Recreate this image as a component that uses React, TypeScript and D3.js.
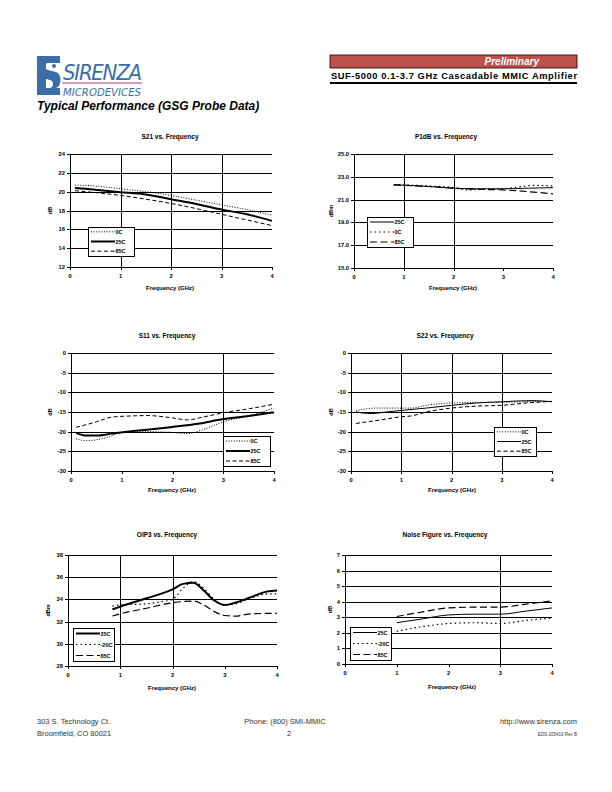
import * as d3 from "d3";

// ---- data (freq GHz, value) ----
const s21_0C = [[0.1, 20.7], [0.5, 20.6], [1, 20.3], [1.5, 20.0], [2, 19.6], [2.5, 19.1], [3, 18.6], [3.5, 18.1], [4, 17.5]];
const s21_25C = [[0.1, 20.4], [0.5, 20.2], [1, 19.95], [1.5, 19.7], [2, 19.2], [2.5, 18.7], [3, 18.1], [3.5, 17.6], [4, 16.9]];
const s21_85C = [[0.1, 20.1], [0.5, 19.9], [1, 19.6], [1.5, 19.2], [2, 18.75], [2.5, 18.2], [3, 17.6], [3.5, 17.0], [4, 16.4]];

const p1_25C = [[0.8, 22.3], [1.5, 22.15], [2, 22.0], [2.5, 21.95], [3, 21.95], [3.5, 22.0], [4, 22.05]];
const p1_0C = [[0.8, 22.3], [1.5, 22.2], [2, 22.05], [2.3, 21.85], [2.5, 21.9], [3, 21.95], [3.3, 22.1], [3.6, 22.25], [4, 22.2]];
const p1_85C = [[0.8, 22.3], [1.5, 22.15], [2, 22.0], [2.5, 21.9], [3, 21.85], [3.5, 21.7], [4, 21.5]];

const s11_0C = [[0.1, -21.8], [0.3, -22.3], [0.7, -21.5], [1, -20.2], [1.5, -20.0], [2, -20.2], [2.3, -20.5], [2.6, -19.5], [3, -17.5], [3.5, -16.0], [4, -14.0]];
const s11_25C = [[0.1, -20.3], [0.3, -21.0], [0.5, -21.0], [0.8, -20.5], [1.1, -20.0], [1.5, -19.5], [2, -18.8], [2.5, -18.0], [3, -16.8], [3.5, -16.0], [4, -15.1]];
const s11_85C = [[0.1, -18.9], [0.5, -17.5], [0.8, -16.3], [1.2, -16.0], [1.5, -15.9], [2, -16.5], [2.3, -17.0], [2.6, -16.3], [3, -15.2], [3.5, -14.2], [4, -13.0]];

const s22_0C = [[0.1, -14.7], [0.5, -14.0], [1.2, -14.0], [1.5, -13.3], [2, -12.7], [3, -12.5], [4, -12.3]];
const s22_25C = [[0.1, -15.0], [0.4, -15.4], [0.7, -15.0], [1, -14.6], [1.5, -14.0], [2, -13.3], [2.5, -12.7], [3, -12.4], [3.6, -12.1], [4, -12.4]];
const s22_85C = [[0.1, -17.9], [0.6, -17.0], [1, -16.2], [1.2, -16.0], [1.5, -15.0], [2, -14.0], [2.5, -13.5], [3, -13.3], [3.5, -12.7], [4, -12.3]];

const ip3_25C = [[0.85, 33.1], [1, 33.35], [1.5, 34.1], [2, 34.9], [2.2, 35.4], [2.4, 35.5], [2.6, 34.8], [2.8, 33.9], [3, 33.5], [3.2, 33.7], [3.5, 34.2], [3.8, 34.7], [4, 34.8]];
const ip3_m20C = [[0.85, 33.4], [1, 33.5], [1.5, 33.6], [1.8, 33.8], [2, 34.0], [2.2, 35.0], [2.4, 35.6], [2.6, 35.0], [2.8, 34.0], [3, 33.5], [3.2, 33.6], [3.5, 34.1], [3.8, 34.5], [4, 34.5]];
const ip3_85C = [[0.85, 32.5], [1, 32.7], [1.5, 33.2], [2, 33.7], [2.4, 33.85], [2.6, 33.5], [2.8, 32.9], [3, 32.55], [3.2, 32.5], [3.5, 32.7], [4, 32.75]];

const nf_25C = [[1, 2.65], [1.5, 2.9], [2, 3.15], [2.5, 3.2], [3, 3.2], [3.5, 3.4], [4, 3.6]];
const nf_m20C = [[1, 2.1], [1.5, 2.4], [2, 2.6], [2.5, 2.65], [3, 2.6], [3.5, 2.8], [4, 2.95]];
const nf_85C = [[1, 3.05], [1.5, 3.35], [2, 3.6], [2.5, 3.65], [3, 3.65], [3.5, 3.85], [4, 4.05]];

const xTicks = [0, 1, 2, 3, 4];

// line styles
const DOT = { dash: "1,1.6", w: 1 };
const DOT2 = { dash: "1.5,3", w: 1.2 };
const HEAVY = { dash: null, w: 2 };
const THIN = { dash: null, w: 1 };
const DASH = { dash: "4,2.5", w: 1 };
const LDASH = { dash: "7,3.5", w: 1.2 };

const FONT = "Liberation Sans, Arial, sans-serif";

function Chart({ title, titleX, titleY, xTitleX, xTitleY, yLabel, yLabelX, plot, yDomain, yTicks, fmt, vGrid, series, legend }) {
  const x = d3.scaleLinear().domain([0, 4]).range([plot.x0, plot.x1]);
  const y = d3.scaleLinear().domain(yDomain).range([plot.y1, plot.y0]);
  const line = d3.line().x(d => x(d[0])).y(d => y(d[1])).curve(d3.curveMonotoneX);
  const rowH = (legend.y1 - legend.y0) / series.length;
  return (
    <g fontFamily={FONT} fontWeight="bold">
      <text x={titleX} y={titleY} fontSize={6.5} textAnchor="middle">{title}</text>
      {yTicks.map(t => (
        <g key={"h" + t}>
          <line x1={plot.x0} x2={plot.x1} y1={Math.round(y(t)) + 0.5} y2={Math.round(y(t)) + 0.5} stroke="#000" strokeWidth={1} />
          <line x1={plot.x0 - 3} x2={plot.x0} y1={Math.round(y(t)) + 0.5} y2={Math.round(y(t)) + 0.5} stroke="#000" strokeWidth={1} />
          <text x={plot.x0 - 5} y={y(t) + 2} fontSize={5.8} textAnchor="end">{fmt(t)}</text>
        </g>
      ))}
      {vGrid.map(v => (
        <line key={"v" + v} x1={Math.round(x(v)) + 0.5} x2={Math.round(x(v)) + 0.5} y1={plot.y0} y2={plot.y1} stroke="#000" strokeWidth={1} />
      ))}
      <line x1={plot.x0 + 0.5} x2={plot.x0 + 0.5} y1={plot.y0} y2={plot.y1} stroke="#000" strokeWidth={1} />
      {xTicks.map(t => (
        <g key={"x" + t}>
          <line x1={Math.round(x(t)) + 0.5} x2={Math.round(x(t)) + 0.5} y1={plot.y1} y2={plot.y1 + 3} stroke="#000" strokeWidth={1} />
          <text x={x(t)} y={plot.y1 + 11} fontSize={5.8} textAnchor="middle">{t}</text>
        </g>
      ))}
      {series.map(s => (
        <path key={s.name} d={line(s.data)} fill="none" stroke="#000" strokeWidth={s.style.w} strokeDasharray={s.style.dash || undefined} />
      ))}
      <text x={xTitleX} y={xTitleY} fontSize={6} textAnchor="middle">Frequency (GHz)</text>
      <text transform={`translate(${yLabelX},${(plot.y0 + plot.y1) / 2}) rotate(-90)`} fontSize={5.5} textAnchor="middle">{yLabel}</text>
      <rect x={legend.x0 + 0.5} y={legend.y0 + 0.5} width={legend.x1 - legend.x0} height={legend.y1 - legend.y0} fill="#fff" stroke="#000" strokeWidth={1} />
      {series.map((s, i) => {
        const cy = legend.y0 + rowH * (i + 0.5);
        return (
          <g key={"l" + s.name}>
            <line x1={legend.x0 + 3} x2={legend.x0 + 27} y1={cy} y2={cy} stroke="#000" strokeWidth={s.style.w} strokeDasharray={s.style.dash || undefined} />
            <text x={legend.x0 + 27.5} y={cy + 2} fontSize={5.5}>{s.name}</text>
          </g>
        );
      })}
    </g>
  );
}

const f0 = (d: number) => String(d);
const f1 = (d: number) => d.toFixed(1);

function Logo() {
  const blue = "#3b6ea8";
  return (
    <g>
      <path d="M37,56 H60 V63 H48 C44,63 44,69 48,70 L56,72 C62,74 62,86 56,88 H60 V95 H37 V88 H50 C54,87 54,81 50,80 L43,78 C35,75 35,58 43,56 Z" fill={blue} />
      <path d="M37,56 H46 V95 H37 Z" fill={blue} />
      <circle cx={54} cy={66} r={2} fill={blue} />
      <text x={63} y={80} fontFamily="DejaVu Sans Condensed, Liberation Sans Narrow, Arial" fontStyle="italic" fontSize={22} fill={blue} textLength={79} lengthAdjust="spacing">SIRENZA</text>
      <line x1={62} x2={142} y1={83} y2={83} stroke="#c4385a" strokeWidth={1.2} />
      <text x={63} y={96} fontFamily="DejaVu Sans Condensed, Liberation Sans Narrow, Arial" fontStyle="italic" fontSize={11} fill={blue} textLength={78} lengthAdjust="spacingAndGlyphs">MICRODEVICES</text>
    </g>
  );
}

export default function App() {
  return (
    <svg width={612} height={792} style={{ position: "absolute", left: 0, top: 0 }}>
      <rect width={612} height={792} fill="#fff" />
      <Logo />
      <text x={37} y={110} fontFamily={FONT} fontWeight="bold" fontStyle="italic" fontSize={12}>Typical Performance (GSG Probe Data)</text>
      <rect x={330} y={55} width={247} height={13} fill="#c0504d" stroke="#000" strokeWidth={0.8} />
      <text x={539} y={65} fontFamily={FONT} fontWeight="bold" fontStyle="italic" fontSize={10} fill="#fff" textAnchor="end">Preliminary</text>
      <text x={331} y={79} fontFamily={FONT} fontWeight="bold" fontSize={9.3} textLength={246} lengthAdjust="spacing">SUF-5000 0.1-3.7 GHz Cascadable MMIC Amplifier</text>
      <line x1={330} x2={577} y1={83} y2={83} stroke="#000" strokeWidth={2} />

      <Chart title="S21 vs. Frequency" titleX={170} titleY={139} xTitleX={170} xTitleY={290} yLabel="dB" yLabelX={52}
        plot={{ x0: 70, x1: 272, y0: 154, y1: 267 }} yDomain={[12, 24]} yTicks={[12, 14, 16, 18, 20, 22, 24]} fmt={f0} vGrid={[1, 2, 3]}
        series={[{ name: "0C", data: s21_0C, style: DOT }, { name: "25C", data: s21_25C, style: HEAVY }, { name: "85C", data: s21_85C, style: DASH }]}
        legend={{ x0: 88, x1: 134, y0: 227, y1: 256 }} />

      <Chart title="P1dB vs. Frequency" titleX={446} titleY={139} xTitleX={453} xTitleY={290} yLabel="dBm" yLabelX={333}
        plot={{ x0: 354, x1: 553, y0: 154, y1: 268 }} yDomain={[15, 25]} yTicks={[15, 17, 19, 21, 23, 25]} fmt={f1} vGrid={[1, 2]}
        series={[{ name: "25C", data: p1_25C, style: THIN }, { name: "0C", data: p1_0C, style: DOT2 }, { name: "85C", data: p1_85C, style: LDASH }]}
        legend={{ x0: 367, x1: 413, y0: 217, y1: 247 }} />

      <Chart title="S11 vs. Frequency" titleX={167} titleY={338} xTitleX={172} xTitleY={492} yLabel="dB" yLabelX={52}
        plot={{ x0: 71, x1: 274, y0: 353, y1: 471 }} yDomain={[-30, 0]} yTicks={[-30, -25, -20, -15, -10, -5, 0]} fmt={f0} vGrid={[3]}
        series={[{ name: "0C", data: s11_0C, style: DOT }, { name: "25C", data: s11_25C, style: HEAVY }, { name: "85C", data: s11_85C, style: DASH }]}
        legend={{ x0: 223, x1: 270, y0: 436, y1: 466 }} />

      <Chart title="S22  vs. Frequency" titleX={445} titleY={338} xTitleX={452} xTitleY={492} yLabel="dB" yLabelX={333}
        plot={{ x0: 351, x1: 552, y0: 353, y1: 471 }} yDomain={[-30, 0]} yTicks={[-30, -25, -20, -15, -10, -5, 0]} fmt={f0} vGrid={[1, 2, 3]}
        series={[{ name: "0C", data: s22_0C, style: DOT }, { name: "25C", data: s22_25C, style: THIN }, { name: "85C", data: s22_85C, style: DASH }]}
        legend={{ x0: 494, x1: 536, y0: 427, y1: 456 }} />

      <Chart title="OIP3 vs. Frequency" titleX={167} titleY={537} xTitleX={172} xTitleY={690} yLabel="dBm" yLabelX={50}
        plot={{ x0: 68, x1: 277, y0: 555, y1: 666 }} yDomain={[28, 38]} yTicks={[28, 30, 32, 34, 36, 38]} fmt={f0} vGrid={[1, 2]}
        series={[{ name: "25C", data: ip3_25C, style: HEAVY }, { name: "-20C", data: ip3_m20C, style: DOT2 }, { name: "85C", data: ip3_85C, style: LDASH }]}
        legend={{ x0: 73, x1: 114, y0: 628, y1: 661 }} />

      <Chart title="Noise Figure vs. Frequency" titleX={445} titleY={537} xTitleX={452} xTitleY={689} yLabel="dB" yLabelX={332}
        plot={{ x0: 345, x1: 552, y0: 555, y1: 664 }} yDomain={[0, 7]} yTicks={[0, 1, 2, 3, 4, 5, 6, 7]} fmt={f0} vGrid={[3]}
        series={[{ name: "25C", data: nf_25C, style: THIN }, { name: "-20C", data: nf_m20C, style: DOT2 }, { name: "85C", data: nf_85C, style: LDASH }]}
        legend={{ x0: 350, x1: 391, y0: 627, y1: 660 }} />

      <g fontFamily={FONT} fontSize={7.5} fill="#333">
        <text x={37} y={724}>303 S. Technology Ct.</text>
        <text x={37} y={736}>Broomfield, CO 80021</text>
        <text x={285} y={724} textAnchor="middle">Phone:  (800)  SMI-MMIC</text>
        <text x={289} y={736} textAnchor="middle">2</text>
        <text x={577} y={724} textAnchor="end">http://www.sirenza.com</text>
        <text x={577} y={736} textAnchor="end" fontSize={4.5}>EDS-105419 Rev B</text>
      </g>
    </svg>
  );
}
